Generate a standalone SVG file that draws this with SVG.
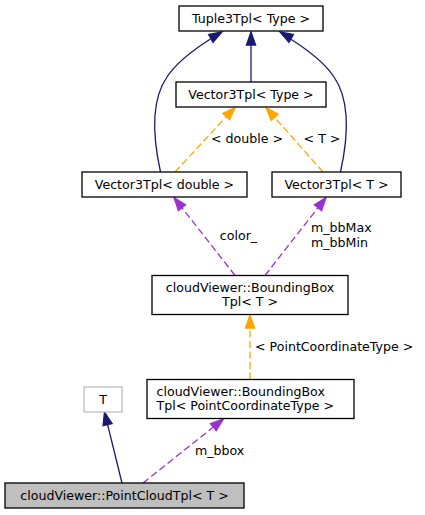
<svg xmlns="http://www.w3.org/2000/svg" width="425" height="515" viewBox="0 0 425 515">
<style>
text{font-family:"DejaVu Sans","Liberation Sans",sans-serif;font-size:12.6px;fill:#000}
.m{text-anchor:middle}
.s{text-anchor:start}
.box{fill:#fff;stroke:#000;stroke-width:1.3}
.ext{fill:#fff;stroke:#bfbfbf;stroke-width:1.3}
.cur{fill:#bfbfbf;stroke:#000;stroke-width:1.3}
.inh{fill:none;stroke:#191970;stroke-width:1.3}
.inhA{fill:#191970;stroke:#191970;stroke-width:1.3}
.tpl{fill:none;stroke:#ffa500;stroke-width:1.3;stroke-dasharray:7,3.5}
.tplA{fill:#ffa500;stroke:#ffa500;stroke-width:1.3}
.use{fill:none;stroke:#9a32cd;stroke-width:1.3;stroke-dasharray:7,3.5}
.useA{fill:#9a32cd;stroke:#9a32cd;stroke-width:1.3}
</style>
<g id="connectors">
  <g id="e_vtype_tuple">
    <path class="inh" d="M251,82 L251,45"/>
    <polygon class="inhA" points="251,32 246.4,45 255.6,45"/>
  </g>
  <g id="e_vdouble_tuple">
    <path class="inh" d="M160.5,172 C153,138 151,100 167,77 C176,63 190,52 210.5,39"/>
    <polygon class="inhA" points="222,32 208.6,34.4 213,42.4"/>
  </g>
  <g id="e_vt_tuple">
    <path class="inh" d="M340.5,172 C348,138 350,100 334,77 C325,63 311,52 290.5,39"/>
    <polygon class="inhA" points="280,32 293.4,34.4 289,42.4"/>
  </g>
  <g id="e_vdouble_vtype">
    <path class="tpl" d="M175,172 L226,117"/>
    <polygon class="tplA" points="235,107.5 222.8,113.5 229.6,119.7"/>
    <text class="m" x="247" y="142.5">&lt; double &gt;</text>
  </g>
  <g id="e_vt_vtype">
    <path class="tpl" d="M323,172 L274.6,117.3"/>
    <polygon class="tplA" points="266,107.5 278.1,114.2 271.2,120.3"/>
    <text class="m" x="322" y="142.5">&lt; T &gt;</text>
  </g>
  <g id="e_bb_vdouble">
    <path class="use" d="M235,275.5 L182,207.7"/>
    <polygon class="useA" points="174,197.5 185.6,204.9 178.4,210.6"/>
    <text class="m" x="238.5" y="239.5">color_</text>
  </g>
  <g id="e_bb_vt">
    <path class="use" d="M265,275.5 L318,207.7"/>
    <polygon class="useA" points="326,197.5 321.6,210.6 314.4,204.9"/>
    <text class="s" x="311" y="232">m_bbMax</text>
    <text class="s" x="311" y="246.5">m_bbMin</text>
  </g>
  <g id="e_bbpct_bb">
    <path class="tpl" d="M250,379.5 L250,328"/>
    <polygon class="tplA" points="250,315 245.4,328 254.6,328"/>
    <text class="s" x="255" y="350.5">&lt; PointCoordinateType &gt;</text>
  </g>
  <g id="e_pc_T">
    <path class="inh" d="M122,483 L107.6,424.6"/>
    <polygon class="inhA" points="104.5,412 112.1,423.5 103.1,425.7"/>
  </g>
  <g id="e_pc_bbpct">
    <path class="use" d="M143,483 L213.3,427.1"/>
    <polygon class="useA" points="223.5,419 216.2,430.7 210.4,423.5"/>
    <text class="s" x="195" y="454.5">m_bbox</text>
  </g>
</g>
<g id="n_tuple">
  <rect class="box" x="179" y="6" width="144" height="25"/>
  <text class="m" x="251" y="22.8">Tuple3Tpl&lt; Type &gt;</text>
</g>
<g id="n_vtype">
  <rect class="box" x="176" y="82" width="150" height="25"/>
  <text class="m" x="251" y="98.8">Vector3Tpl&lt; Type &gt;</text>
</g>
<g id="n_vdouble">
  <rect class="box" x="82" y="172" width="165" height="25"/>
  <text class="m" x="164.5" y="188.8">Vector3Tpl&lt; double &gt;</text>
</g>
<g id="n_vt">
  <rect class="box" x="272" y="172" width="129" height="25"/>
  <text class="m" x="336.5" y="188.8">Vector3Tpl&lt; T &gt;</text>
</g>
<g id="n_bb">
  <rect class="box" x="152" y="275.5" width="196" height="39"/>
  <text class="m" x="250" y="292">cloudViewer::BoundingBox</text>
  <text class="m" x="250" y="305.5">Tpl&lt; T &gt;</text>
</g>
<g id="n_bbpct">
  <rect class="box" x="147" y="379.5" width="207" height="39"/>
  <text class="s" x="156.5" y="396">cloudViewer::BoundingBox</text>
  <text class="s" x="156.5" y="409.5">Tpl&lt; PointCoordinateType &gt;</text>
</g>
<g id="n_T">
  <rect class="ext" x="84" y="387" width="38" height="25"/>
  <text class="m" x="103" y="403.8">T</text>
</g>
<g id="n_pc">
  <rect class="cur" x="5" y="483" width="239" height="25"/>
  <text class="m" x="124.5" y="499.8">cloudViewer::PointCloudTpl&lt; T &gt;</text>
</g>
</svg>
